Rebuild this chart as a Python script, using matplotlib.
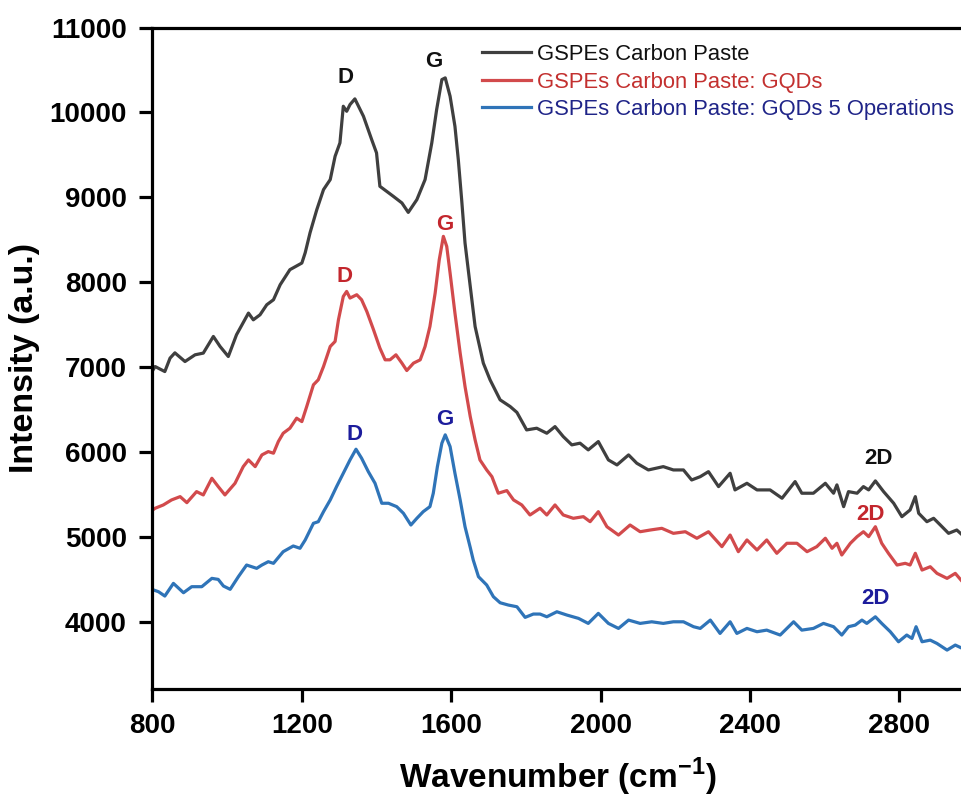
import matplotlib
matplotlib.use('Agg')
import matplotlib.pyplot as plt

plt.rcParams['font.family'] = ['Liberation Sans', 'DejaVu Sans']
plt.rcParams['mathtext.fontset'] = 'custom'
plt.rcParams['mathtext.rm'] = 'Liberation Sans'
plt.rcParams['mathtext.bf'] = 'Liberation Sans:bold'

# ---------------- data ----------------
black_x = [800, 807, 833, 847, 860, 887, 914, 936, 963, 981, 1003, 1025, 1057, 1070, 1088, 1106, 1124, 1142,
           1168, 1200, 1209, 1222, 1240, 1258, 1276, 1289, 1302, 1311, 1320, 1329, 1342, 1365, 1387, 1400,
           1409, 1427, 1445, 1468, 1485, 1508, 1530, 1548, 1561, 1575, 1584, 1597, 1610, 1619, 1628, 1637,
           1651, 1664, 1677, 1686, 1704, 1731, 1758, 1776, 1802, 1829, 1856, 1878, 1900, 1923, 1945, 1967,
           1994, 2021, 2044, 2075, 2097, 2128, 2168, 2195, 2222, 2244, 2267, 2289, 2316, 2347, 2360, 2392,
           2419, 2454, 2486, 2521, 2539, 2570, 2602, 2624, 2633, 2651, 2664, 2687, 2704, 2718, 2736, 2758,
           2785, 2807, 2829, 2843, 2852, 2874, 2892, 2910, 2932, 2954, 2969]
black_y = [6960, 7010, 6951, 7109, 7171, 7069, 7148, 7168, 7364, 7246, 7128, 7384, 7639, 7560, 7619, 7737, 7796, 7973,
           8150, 8228, 8350, 8585, 8856, 9092, 9210, 9484, 9642, 10073, 10014, 10093, 10160, 9955, 9681, 9524,
           9131, 9072, 9013, 8935, 8824, 8974, 9210, 9642, 10034, 10387, 10407, 10191, 9837, 9445, 8974, 8464,
           7953, 7481, 7227, 7050, 6854, 6618, 6539, 6470, 6264, 6284, 6225, 6303, 6186, 6088, 6108, 6029,
           6127, 5911, 5852, 5970, 5872, 5793, 5832, 5793, 5793, 5675, 5714, 5773, 5597, 5754, 5558, 5636,
           5558, 5558, 5460, 5656, 5519, 5519, 5636, 5519, 5617, 5361, 5538, 5519, 5597, 5558, 5664, 5538,
           5401, 5243, 5322, 5479, 5283, 5184, 5224, 5145, 5047, 5086, 5027]

red_x = [800, 807, 829, 851, 874, 892, 918, 936, 959, 976, 994, 1021, 1043, 1057, 1075, 1093, 1110, 1124, 1137,
         1150, 1168, 1186, 1200, 1213, 1231, 1244, 1258, 1276, 1289, 1298, 1311, 1320, 1329, 1347, 1360, 1374,
         1392, 1409, 1423, 1436, 1452, 1468, 1481, 1499, 1517, 1530, 1543, 1557, 1568, 1579, 1588, 1597, 1610,
         1624, 1637, 1651, 1664, 1677, 1695, 1709, 1726, 1749, 1767, 1789, 1811, 1838, 1856, 1878, 1900, 1927,
         1954, 1972, 1994, 2017, 2048, 2079, 2106, 2133, 2164, 2195, 2227, 2258, 2289, 2325, 2347, 2369, 2392,
         2419, 2445, 2472, 2499, 2526, 2553, 2579, 2602, 2620, 2633, 2646, 2669, 2687, 2704, 2718, 2736, 2753,
         2771, 2794, 2816, 2829, 2843, 2861, 2883, 2901, 2928, 2950, 2969]
red_y = [5320, 5342, 5381, 5440, 5479, 5408, 5538, 5499, 5695, 5597, 5499, 5636, 5832, 5911, 5832, 5970, 6009, 5990, 6127,
         6225, 6284, 6402, 6362, 6539, 6795, 6854, 7010, 7246, 7305, 7560, 7835, 7894, 7816, 7855, 7796, 7658,
         7442, 7227, 7089, 7089, 7148, 7050, 6963, 7050, 7089, 7246, 7481, 7875, 8267, 8542, 8424, 8110, 7639,
         7168, 6775, 6421, 6147, 5911, 5793, 5714, 5519, 5550, 5440, 5381, 5263, 5342, 5263, 5381, 5263, 5224,
         5243, 5184, 5302, 5125, 5027, 5145, 5066, 5086, 5106, 5047, 5066, 4989, 5066, 4890, 5027, 4831, 4969,
         4851, 4969, 4812, 4930, 4930, 4831, 4890, 4989, 4871, 4930, 4792, 4930, 5008, 5066, 5008, 5125, 4930,
         4812, 4674, 4694, 4674, 4812, 4615, 4654, 4576, 4517, 4576, 4478]

blue_x = [800, 816, 833, 856, 883, 905, 932, 959, 976, 990, 1008, 1030, 1052, 1079, 1093, 1110, 1124, 1150, 1177,
          1195, 1209, 1231, 1244, 1258, 1276, 1293, 1311, 1329, 1345, 1360, 1378, 1396, 1414, 1432, 1454, 1472,
          1492, 1508, 1525, 1543, 1552, 1563, 1575, 1584, 1597, 1610, 1624, 1637, 1651, 1659, 1673, 1695, 1713,
          1731, 1753, 1776, 1798, 1820, 1838, 1856, 1883, 1910, 1941, 1967, 1994, 2021, 2048, 2075, 2106, 2137,
          2168, 2195, 2222, 2249, 2267, 2294, 2320, 2347, 2365, 2392, 2419, 2445, 2481, 2517, 2539, 2570, 2597,
          2624, 2646, 2664, 2682, 2700, 2713, 2736, 2753, 2776, 2798, 2820, 2834, 2845, 2861, 2883, 2901, 2928,
          2950, 2969]
blue_y = [4385, 4360, 4309, 4458, 4348, 4419, 4419, 4517, 4505, 4427, 4388, 4537, 4674, 4635, 4674, 4713, 4694, 4831, 4898,
          4871, 4969, 5165, 5184, 5302, 5440, 5597, 5754, 5911, 6037, 5931, 5773, 5636, 5401, 5401, 5361, 5283,
          5145, 5224, 5302, 5361, 5519, 5832, 6108, 6206, 6068, 5754, 5440, 5125, 4880, 4733, 4537, 4439, 4301,
          4230, 4203, 4183, 4058, 4097, 4097, 4065, 4124, 4085, 4046, 3987, 4105, 3987, 3928, 4026, 3987, 4006,
          3987, 4006, 4006, 3948, 3928, 4026, 3869, 4006, 3869, 3928, 3889, 3908, 3850, 4006, 3908, 3928, 3987,
          3948, 3850, 3948, 3967, 4026, 3987, 4065, 3987, 3889, 3771, 3850, 3810, 3948, 3771, 3790, 3751, 3673,
          3732, 3693]

series_labels = ['GSPEs Carbon Paste', 'GSPEs Carbon Paste: GQDs', 'GSPEs Carbon Paste: GQDs 5 Operations']

# peak annotations: (label, x, y) per series
black_peaks = [('D', 1318, 10407), ('G', 1552, 10600), ('2D', 2744, 5931)]
red_peaks = [('D', 1314, 8070), ('G', 1582, 8679), ('2D', 2722, 5263)]
blue_peaks = [('D', 1340, 6214), ('G', 1584, 6382), ('2D', 2736, 4282)]

x_ticks = [800, 1200, 1600, 2000, 2400, 2800]
y_ticks = [4000, 5000, 6000, 7000, 8000, 9000, 10000, 11000]

# ---------------- styling ----------------
line_colors = ['#3f3f3f', '#d24a4c', '#2f74b8']
text_colors = ['#111111', '#c3262d', '#1c1c9c']
legend_text_colors = ['#111111', '#c3302f', '#1f2488']

W, H = 962, 798
fig = plt.figure(figsize=(W / 100, H / 100), dpi=100)
left_px, right_px, top_px, bot_px = 152.5, 962, 27.5, 689
ax = fig.add_axes([left_px / W, 1 - bot_px / H, (right_px - left_px) / W, (bot_px - top_px) / H])

lines = []
for xs, ys, c, lab in zip([black_x, red_x, blue_x], [black_y, red_y, blue_y], line_colors, series_labels):
    ln, = ax.plot(xs, ys, color=c, lw=2.3, label=lab, solid_joinstyle='round')
    lines.append(ln)

for peaks, c in zip([black_peaks, red_peaks, blue_peaks], text_colors):
    for lab, px, py in peaks:
        ax.text(px, py, lab, ha='center', va='center', fontsize=16, fontweight='bold', color=c)

ax.set_xlim(800, 2968)
ax.set_ylim(3215, 11000)
ax.set_xticks(x_ticks)
ax.set_yticks(y_ticks)
ax.set_xticklabels([str(t) for t in x_ticks])
ax.set_yticklabels([str(t) for t in y_ticks])
for lbl in ax.get_xticklabels() + ax.get_yticklabels():
    lbl.set_fontweight('bold')

ax.spines['right'].set_visible(False)
for s in ['left', 'bottom', 'top']:
    ax.spines[s].set_linewidth(2.3)
    ax.spines[s].set_color('black')
ax.tick_params(direction='out', length=9.5, width=2.3, labelsize=20, top=False, right=False,
               colors='black')
ax.tick_params(axis='y', pad=9)
ax.tick_params(axis='x', pad=8)

ax.set_xlabel(r'Wavenumber (cm$^{\mathbf{-1}}$)', fontsize=24, fontweight='bold', labelpad=12)
ax.set_ylabel('Intensity (a.u.)', fontsize=24.5, fontweight='bold', labelpad=7)

leg = ax.legend(handles=lines, loc='upper left', bbox_to_anchor=(482 / W, 1 - 44 / H),
                bbox_transform=fig.transFigure, frameon=False, fontsize=15.8, handlelength=2.25,
                handletextpad=0.25, labelspacing=0.3, borderpad=0, borderaxespad=0)
for t, c in zip(leg.get_texts(), legend_text_colors):
    t.set_color(c)

fig.savefig('out.png', dpi=100)
